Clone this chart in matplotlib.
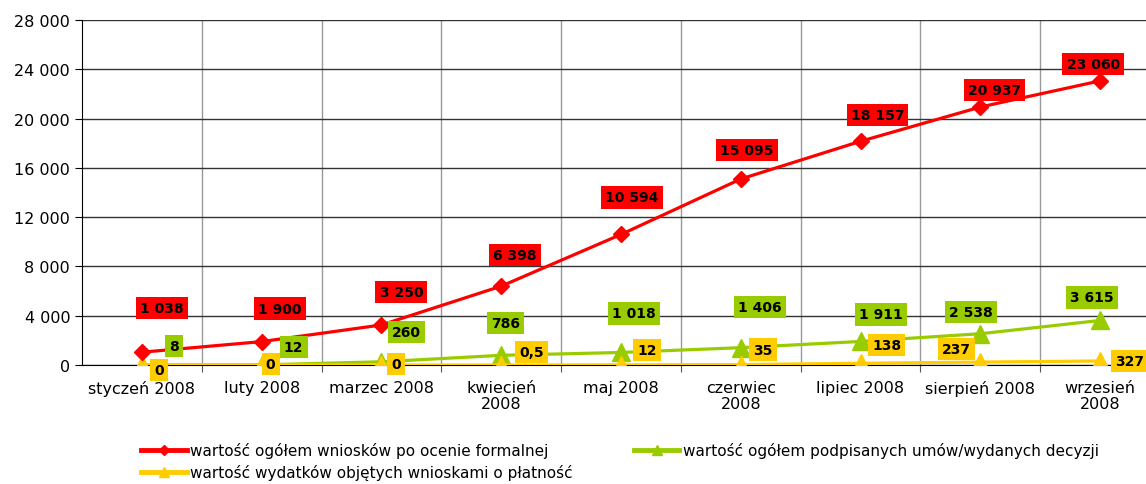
import matplotlib
matplotlib.use('Agg')
import matplotlib.pyplot as plt
from matplotlib.ticker import FuncFormatter, MultipleLocator

months = ['styczeń 2008', 'luty 2008', 'marzec 2008', 'kwiecień\n2008', 'maj 2008',
          'czerwiec\n2008', 'lipiec 2008', 'sierpień 2008', 'wrzesień\n2008']

wnioski = [1038, 1900, 3250, 6398, 10594, 15095, 18157, 20937, 23060]
umowy = [8, 12, 260, 786, 1018, 1406, 1911, 2538, 3615]
wydatki = [0, 0, 0, 0.5, 12, 35, 138, 237, 327]

wnioski_lbl = ['1 038', '1 900', '3 250', '6 398', '10 594', '15 095', '18 157', '20 937', '23 060']
umowy_lbl = ['8', '12', '260', '786', '1 018', '1 406', '1 911', '2 538', '3 615']
wydatki_lbl = ['0', '0', '0', '0,5', '12', '35', '138', '237', '327']

names = ['wartość ogółem wniosków po ocenie formalnej',
         'wartość ogółem podpisanych umów/wydanych decyzji',
         'wartość wydatków objętych wnioskami o płatność']

# label offsets in pixels (dx, dy), hand placed like in the original
off_red = [(20, 44), (18, 33), (20, 33), (14, 31), (11, 37), (6, 29), (17, 26), (14, 17), (-7, 17)]
off_green = [(32, 19), (32, 18), (25, 30), (4, 32), (13, 39), (19, 41), (20, 27), (-9, 22), (-8, 23)]
off_yellow = [(17, -5), (9, 1), (15, 1), (30, 13), (26, 15), (22, 15), (26, 18), (-24, 13), (30, 0)]

RED, GREEN, YELLOW = '#FF0000', '#99CC00', '#FFCC00'

fig = plt.figure(figsize=(11.46, 4.85), dpi=100)
ax = fig.add_axes([82 / 1146, 119 / 485, 1078 / 1146, 345 / 485])

x = list(range(len(months)))
l1, = ax.plot(x, wnioski, color=RED, lw=2.3, marker='D', ms=8, zorder=6, label=names[0])
l2, = ax.plot(x, umowy, color=GREEN, lw=2.3, marker='^', ms=13, zorder=4, label=names[1])
l3, = ax.plot(x, wydatki, color=YELLOW, lw=2.3, marker='^', ms=13, zorder=5, label=names[2])


def put_labels(vals, lbls, offs, color):
    for i, (v, t) in enumerate(zip(vals, lbls)):
        ax.annotate(t, (i, v), xytext=offs[i], textcoords='offset pixels',
                    ha='center', va='center', fontsize=10, fontweight='bold',
                    bbox=dict(boxstyle='square,pad=0.3', fc=color, ec='none'),
                    zorder=10, annotation_clip=False)


put_labels(wnioski, wnioski_lbl, off_red, RED)
put_labels(umowy, umowy_lbl, off_green, GREEN)
put_labels(wydatki, wydatki_lbl, off_yellow, YELLOW)

ax.set_xlim(-0.5, len(months) - 0.5)
ax.set_ylim(0, 28000)
ax.yaxis.set_major_locator(MultipleLocator(4000))
ax.yaxis.set_major_formatter(FuncFormatter(lambda v, p: '{:,}'.format(int(v)).replace(',', ' ')))
ax.tick_params(axis='y', labelsize=11.5, direction='out', length=5, color='black')

ax.set_xticks([i + 0.5 for i in range(len(months) - 1)], minor=False)
ax.set_xticklabels([])
ax.set_xticks(x, minor=True)
ax.set_xticklabels(months, minor=True, fontsize=11.5, linespacing=1.05)
ax.tick_params(axis='x', which='minor', length=0, pad=11)
ax.tick_params(axis='x', which='major', length=5, direction='out', color='#555555')

ax.grid(axis='y', color='#333333', lw=1)
ax.grid(axis='x', which='major', color='#999999', lw=1)
ax.set_axisbelow(True)
for side in ['top', 'right']:
    ax.spines[side].set_visible(False)
ax.spines['left'].set_color('black')
ax.spines['bottom'].set_color('black')

leg = fig.legend([l1, l3, l2], [names[0], names[2], names[1]], ncol=2, loc='upper left',
                 bbox_to_anchor=(141 / 1146, 1 - 443 / 485), frameon=False, fontsize=11,
                 handlelength=3, handletextpad=0.2, columnspacing=4.0, labelspacing=0.4,
                 borderaxespad=0, borderpad=0, markerscale=0.6)
for h in leg.legend_handles:
    h.set_linewidth(3.5)

fig.savefig('out.png', dpi=100)
